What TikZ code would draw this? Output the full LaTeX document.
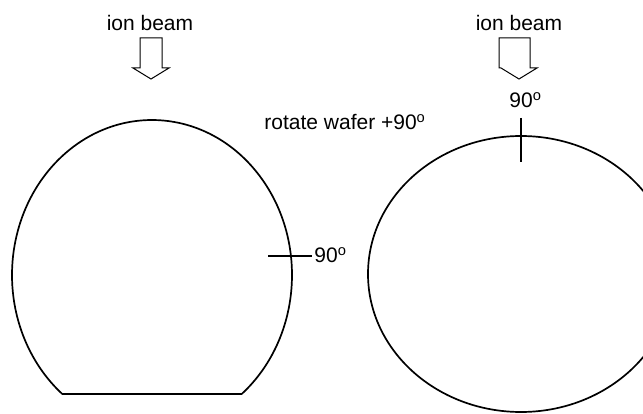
\documentclass[tikz,border=0pt]{standalone}
\usepackage{fontspec}
\setmainfont{Liberation Sans}
\usetikzlibrary{positioning}

\begin{document}
\begin{tikzpicture}[x=0.5pt,y=0.5pt,
  lbl/.style={font=\fontsize{10.5}{12.6}\selectfont, inner sep=0pt, anchor=base west},
  outline/.style={draw=black, line width=0.85pt},
  flatedge/.style={draw=black, line width=1.2pt},
  beam/.style={draw=black, line width=0.5pt, line join=miter},
  tickmark/.style={draw=black, line width=0.6pt}]
  \clip (0,0) rectangle (643,413);
  % wafer before rotation, flat at the bottom
  \def\cx{152}\def\cy{138}\def\rx{140}\def\ry{155}\def\yflat{19}
  \pgfmathsetmacro{\ta}{asin((\yflat-\cy)/\ry)}
  \pgfmathsetmacro{\tb}{180-\ta}
  \coordinate (flat right) at ({\cx+\rx*cos(\ta)},\yflat);
  \coordinate (flat left)  at ({\cx-\rx*cos(\ta)},\yflat);
  \draw[outline] (flat right) arc[start angle=\ta, end angle=\tb, x radius=\rx, y radius=\ry];
  \draw[flatedge] (flat left) -- (flat right);
  % wafer after rotation
  \draw[outline] (521,139) ellipse[x radius=153, y radius=138];
  % ion beam arrows
  \foreach \bx/\tx/\sl/\sr/\hl/\hr in {151/150/140/162/133/169, 519/519/499/530/501/537}{
    \draw[beam] (\sl,375) -- (\sl,345) -- (\hl,345) -- (\bx,334) -- (\hr,345) -- (\sr,345) -- (\sr,375) -- cycle;
    \node[lbl, anchor=base] at (\tx,382) {ion beam};
  }
  % 90 degree marks
  \coordinate (mark left a) at (268,157);
  \coordinate (mark left b) at (312,157);
  \draw[tickmark] (mark left a) -- (mark left b);
  \node[lbl] (deg left) at (314,150) {90\textsuperscript{o}};
  \coordinate (mark right a) at (521,295);
  \coordinate (mark right b) at (521,251);
  \draw[tickmark] (mark right a) -- (mark right b);
  \node[lbl] (deg right) at (509,305) {90\textsuperscript{o}};
  \node[lbl] (rotate) at (264,283) {rotate wafer +90\textsuperscript{o}};
\end{tikzpicture}
\end{document}
